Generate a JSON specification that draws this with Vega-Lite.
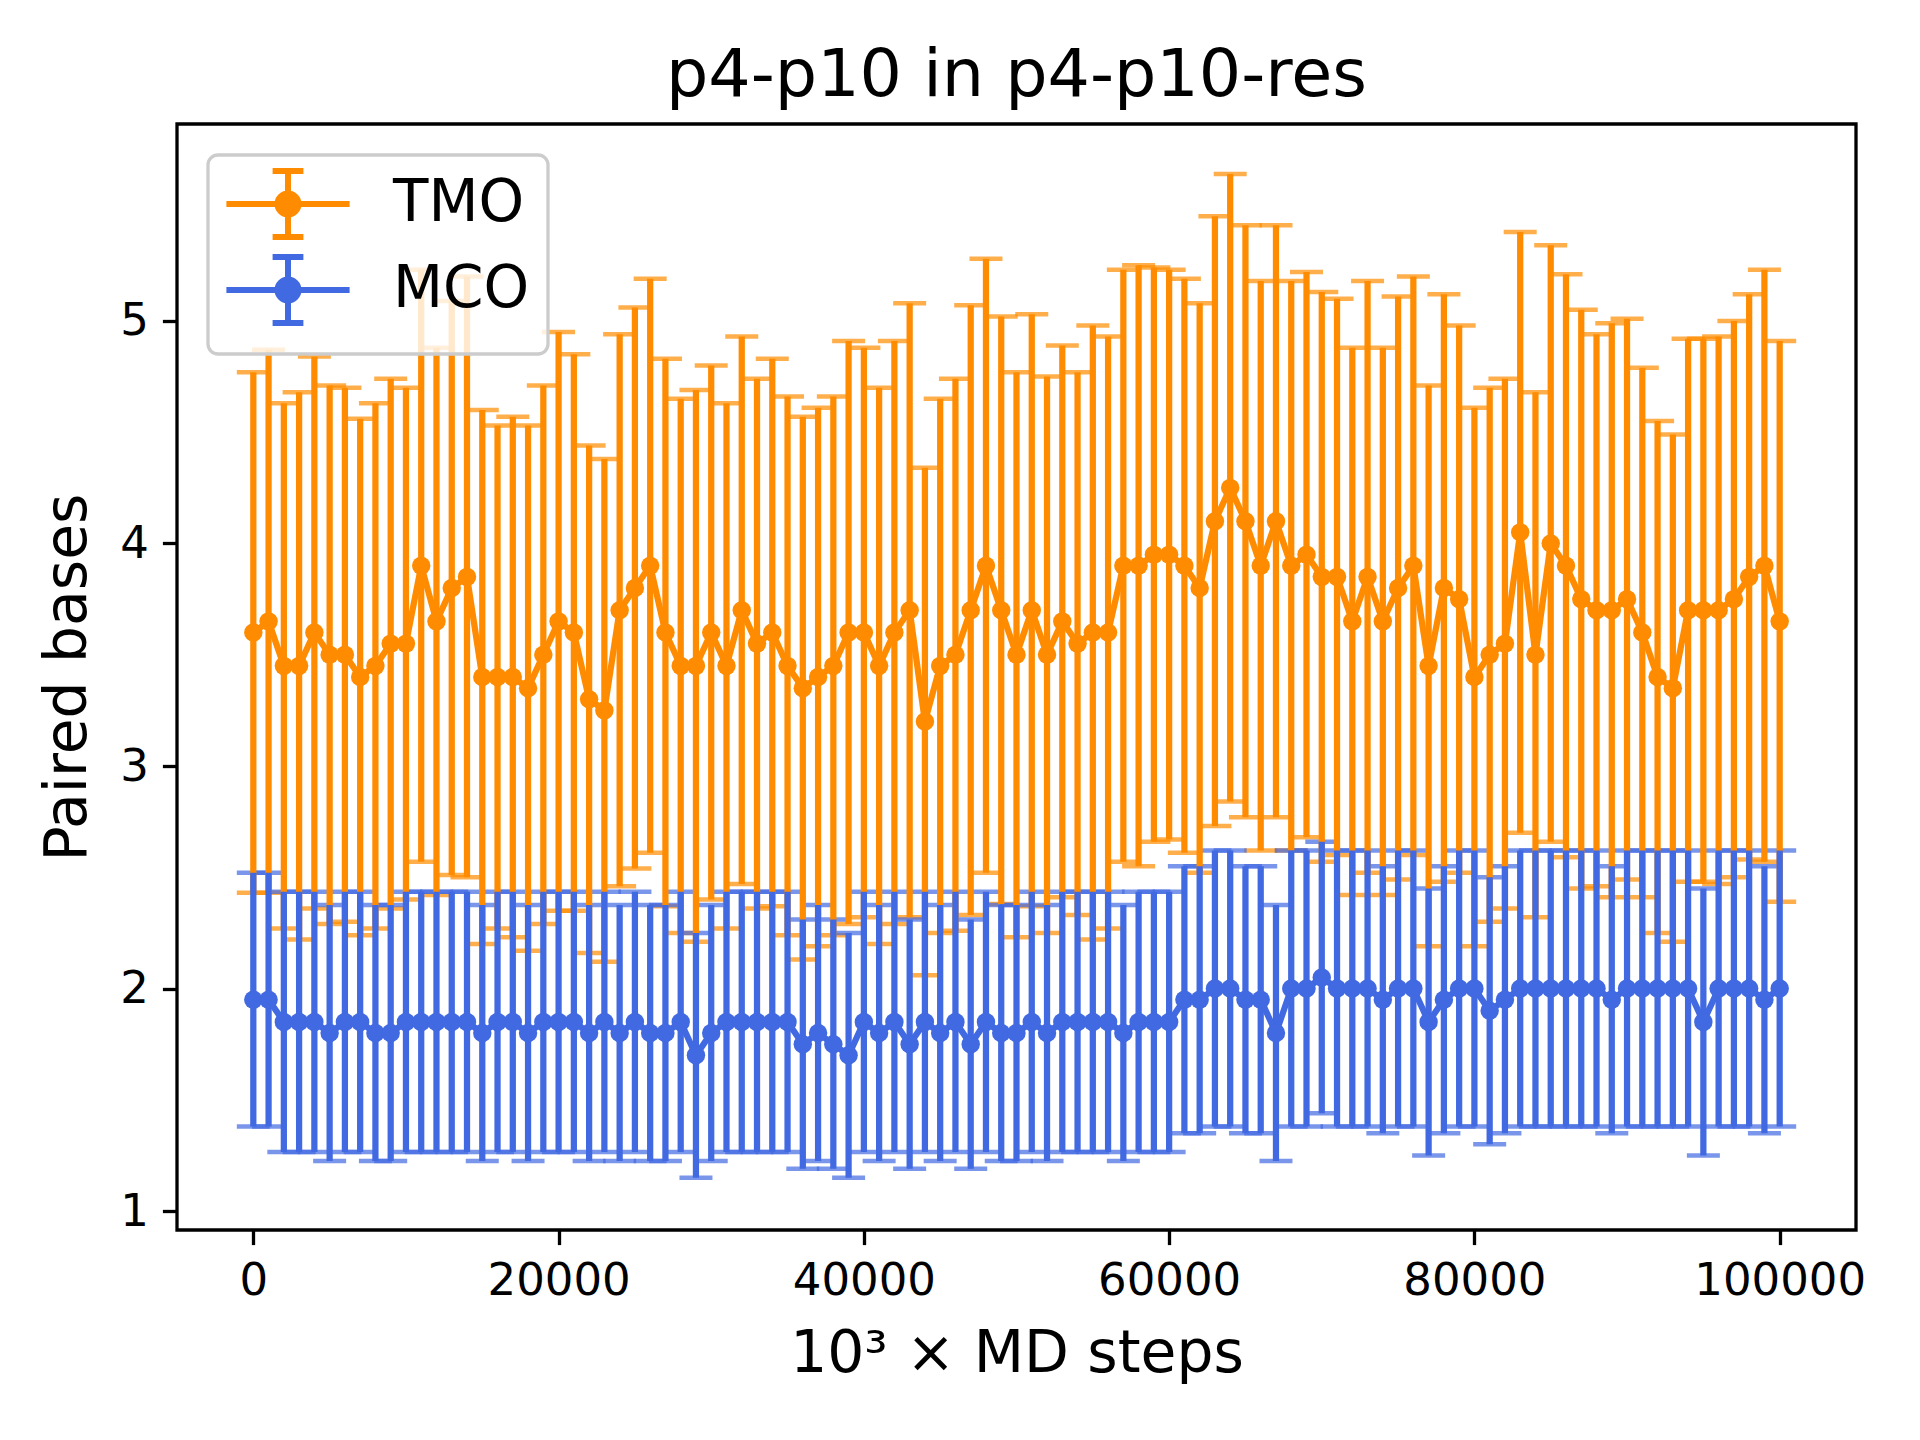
{
  "$schema": "https://vega.github.io/schema/vega-lite/v6.json",
  "width": 1679,
  "height": 1106,
  "autosize": {"type": "none"},
  "padding": {"left": 177, "top": 124, "right": 64, "bottom": 210},
  "background": "white",
  "title": {"text": "p4-p10 in p4-p10-res", "fontSize": 66.7, "font": "DejaVu Sans", "fontWeight": "normal", "color": "black", "anchor": "middle", "offset": -39, "baseline": "alphabetic"},
  "config": {
    "view": {"stroke": "black", "strokeWidth": 3.3},
    "axis": {"grid": false, "domain": false, "tickColor": "black", "tickWidth": 3.3, "tickSize": 14.6, "labelFont": "DejaVu Sans", "labelFontSize": 45, "labelColor": "black", "labelPadding": 14, "titleFont": "DejaVu Sans", "titleFontSize": 58.3, "titleFontWeight": "normal", "titleColor": "black", "labelFlush": false, "labelOverlap": false}
  },
  "data": {"values": [
    {"series":"TMO","step":0,"mean":3.60,"std":1.17},{"series":"TMO","step":1000,"mean":3.65,"std":1.22},{"series":"TMO","step":2000,"mean":3.45,"std":1.18},{"series":"TMO","step":3000,"mean":3.45,"std":1.23},{"series":"TMO","step":4000,"mean":3.60,"std":1.24},
    {"series":"TMO","step":5000,"mean":3.50,"std":1.21},{"series":"TMO","step":6000,"mean":3.50,"std":1.20},{"series":"TMO","step":7000,"mean":3.40,"std":1.16},{"series":"TMO","step":8000,"mean":3.45,"std":1.18},{"series":"TMO","step":9000,"mean":3.55,"std":1.19},
    {"series":"TMO","step":10000,"mean":3.55,"std":1.15},{"series":"TMO","step":11000,"mean":3.90,"std":1.33},{"series":"TMO","step":12000,"mean":3.65,"std":1.23},{"series":"TMO","step":13000,"mean":3.80,"std":1.29},{"series":"TMO","step":14000,"mean":3.85,"std":1.35},
    {"series":"TMO","step":15000,"mean":3.40,"std":1.20},{"series":"TMO","step":16000,"mean":3.40,"std":1.13},{"series":"TMO","step":17000,"mean":3.40,"std":1.17},{"series":"TMO","step":18000,"mean":3.35,"std":1.18},{"series":"TMO","step":19000,"mean":3.50,"std":1.21},
    {"series":"TMO","step":20000,"mean":3.65,"std":1.30},{"series":"TMO","step":21000,"mean":3.60,"std":1.25},{"series":"TMO","step":22000,"mean":3.30,"std":1.14},{"series":"TMO","step":23000,"mean":3.25,"std":1.13},{"series":"TMO","step":24000,"mean":3.70,"std":1.24},
    {"series":"TMO","step":25000,"mean":3.80,"std":1.26},{"series":"TMO","step":26000,"mean":3.90,"std":1.29},{"series":"TMO","step":27000,"mean":3.60,"std":1.23},{"series":"TMO","step":28000,"mean":3.45,"std":1.20},{"series":"TMO","step":29000,"mean":3.45,"std":1.24},
    {"series":"TMO","step":30000,"mean":3.60,"std":1.20},{"series":"TMO","step":31000,"mean":3.45,"std":1.18},{"series":"TMO","step":32000,"mean":3.70,"std":1.23},{"series":"TMO","step":33000,"mean":3.55,"std":1.19},{"series":"TMO","step":34000,"mean":3.60,"std":1.23},
    {"series":"TMO","step":35000,"mean":3.45,"std":1.21},{"series":"TMO","step":36000,"mean":3.35,"std":1.22},{"series":"TMO","step":37000,"mean":3.40,"std":1.21},{"series":"TMO","step":38000,"mean":3.45,"std":1.21},{"series":"TMO","step":39000,"mean":3.60,"std":1.31},
    {"series":"TMO","step":40000,"mean":3.60,"std":1.28},{"series":"TMO","step":41000,"mean":3.45,"std":1.25},{"series":"TMO","step":42000,"mean":3.60,"std":1.31},{"series":"TMO","step":43000,"mean":3.70,"std":1.38},{"series":"TMO","step":44000,"mean":3.20,"std":1.14},
    {"series":"TMO","step":45000,"mean":3.45,"std":1.20},{"series":"TMO","step":46000,"mean":3.50,"std":1.24},{"series":"TMO","step":47000,"mean":3.70,"std":1.37},{"series":"TMO","step":48000,"mean":3.90,"std":1.38},{"series":"TMO","step":49000,"mean":3.70,"std":1.32},
    {"series":"TMO","step":50000,"mean":3.50,"std":1.27},{"series":"TMO","step":51000,"mean":3.70,"std":1.33},{"series":"TMO","step":52000,"mean":3.50,"std":1.25},{"series":"TMO","step":53000,"mean":3.65,"std":1.24},{"series":"TMO","step":54000,"mean":3.55,"std":1.22},
    {"series":"TMO","step":55000,"mean":3.60,"std":1.38},{"series":"TMO","step":56000,"mean":3.60,"std":1.33},{"series":"TMO","step":57000,"mean":3.90,"std":1.33},{"series":"TMO","step":58000,"mean":3.90,"std":1.35},{"series":"TMO","step":59000,"mean":3.95,"std":1.29},
    {"series":"TMO","step":60000,"mean":3.95,"std":1.28},{"series":"TMO","step":61000,"mean":3.90,"std":1.29},{"series":"TMO","step":62000,"mean":3.80,"std":1.28},{"series":"TMO","step":63000,"mean":4.10,"std":1.37},{"series":"TMO","step":64000,"mean":4.25,"std":1.41},
    {"series":"TMO","step":65000,"mean":4.10,"std":1.33},{"series":"TMO","step":66000,"mean":3.90,"std":1.28},{"series":"TMO","step":67000,"mean":4.10,"std":1.33},{"series":"TMO","step":68000,"mean":3.90,"std":1.28},{"series":"TMO","step":69000,"mean":3.95,"std":1.27},
    {"series":"TMO","step":70000,"mean":3.85,"std":1.28},{"series":"TMO","step":71000,"mean":3.85,"std":1.25},{"series":"TMO","step":72000,"mean":3.65,"std":1.23},{"series":"TMO","step":73000,"mean":3.85,"std":1.33},{"series":"TMO","step":74000,"mean":3.65,"std":1.23},
    {"series":"TMO","step":75000,"mean":3.80,"std":1.31},{"series":"TMO","step":76000,"mean":3.90,"std":1.30},{"series":"TMO","step":77000,"mean":3.45,"std":1.26},{"series":"TMO","step":78000,"mean":3.80,"std":1.32},{"series":"TMO","step":79000,"mean":3.75,"std":1.23},
    {"series":"TMO","step":80000,"mean":3.40,"std":1.21},{"series":"TMO","step":81000,"mean":3.50,"std":1.20},{"series":"TMO","step":82000,"mean":3.55,"std":1.19},{"series":"TMO","step":83000,"mean":4.05,"std":1.35},{"series":"TMO","step":84000,"mean":3.50,"std":1.18},
    {"series":"TMO","step":85000,"mean":4.00,"std":1.34},{"series":"TMO","step":86000,"mean":3.90,"std":1.31},{"series":"TMO","step":87000,"mean":3.75,"std":1.30},{"series":"TMO","step":88000,"mean":3.70,"std":1.24},{"series":"TMO","step":89000,"mean":3.70,"std":1.29},
    {"series":"TMO","step":90000,"mean":3.75,"std":1.26},{"series":"TMO","step":91000,"mean":3.60,"std":1.19},{"series":"TMO","step":92000,"mean":3.40,"std":1.15},{"series":"TMO","step":93000,"mean":3.35,"std":1.14},{"series":"TMO","step":94000,"mean":3.70,"std":1.22},
    {"series":"TMO","step":95000,"mean":3.70,"std":1.22},{"series":"TMO","step":96000,"mean":3.70,"std":1.23},{"series":"TMO","step":97000,"mean":3.75,"std":1.25},{"series":"TMO","step":98000,"mean":3.85,"std":1.27},{"series":"TMO","step":99000,"mean":3.90,"std":1.33},
    {"series":"TMO","step":100000,"mean":3.65,"std":1.26},
    {"series":"MCO","step":0,"mean":1.95,"std":0.57},{"series":"MCO","step":1000,"mean":1.95,"std":0.57},{"series":"MCO","step":2000,"mean":1.85,"std":0.585},{"series":"MCO","step":3000,"mean":1.85,"std":0.585},{"series":"MCO","step":4000,"mean":1.85,"std":0.585},
    {"series":"MCO","step":5000,"mean":1.80,"std":0.575},{"series":"MCO","step":6000,"mean":1.85,"std":0.585},{"series":"MCO","step":7000,"mean":1.85,"std":0.585},{"series":"MCO","step":8000,"mean":1.80,"std":0.575},{"series":"MCO","step":9000,"mean":1.80,"std":0.575},
    {"series":"MCO","step":10000,"mean":1.85,"std":0.585},{"series":"MCO","step":11000,"mean":1.85,"std":0.585},{"series":"MCO","step":12000,"mean":1.85,"std":0.585},{"series":"MCO","step":13000,"mean":1.85,"std":0.585},{"series":"MCO","step":14000,"mean":1.85,"std":0.585},
    {"series":"MCO","step":15000,"mean":1.80,"std":0.575},{"series":"MCO","step":16000,"mean":1.85,"std":0.585},{"series":"MCO","step":17000,"mean":1.85,"std":0.585},{"series":"MCO","step":18000,"mean":1.80,"std":0.575},{"series":"MCO","step":19000,"mean":1.85,"std":0.585},
    {"series":"MCO","step":20000,"mean":1.85,"std":0.585},{"series":"MCO","step":21000,"mean":1.85,"std":0.585},{"series":"MCO","step":22000,"mean":1.80,"std":0.575},{"series":"MCO","step":23000,"mean":1.85,"std":0.585},{"series":"MCO","step":24000,"mean":1.80,"std":0.575},
    {"series":"MCO","step":25000,"mean":1.85,"std":0.585},{"series":"MCO","step":26000,"mean":1.80,"std":0.575},{"series":"MCO","step":27000,"mean":1.80,"std":0.575},{"series":"MCO","step":28000,"mean":1.85,"std":0.585},{"series":"MCO","step":29000,"mean":1.70,"std":0.55},
    {"series":"MCO","step":30000,"mean":1.80,"std":0.575},{"series":"MCO","step":31000,"mean":1.85,"std":0.585},{"series":"MCO","step":32000,"mean":1.85,"std":0.585},{"series":"MCO","step":33000,"mean":1.85,"std":0.585},{"series":"MCO","step":34000,"mean":1.85,"std":0.585},
    {"series":"MCO","step":35000,"mean":1.85,"std":0.585},{"series":"MCO","step":36000,"mean":1.75,"std":0.56},{"series":"MCO","step":37000,"mean":1.80,"std":0.575},{"series":"MCO","step":38000,"mean":1.75,"std":0.56},{"series":"MCO","step":39000,"mean":1.70,"std":0.55},
    {"series":"MCO","step":40000,"mean":1.85,"std":0.585},{"series":"MCO","step":41000,"mean":1.80,"std":0.575},{"series":"MCO","step":42000,"mean":1.85,"std":0.585},{"series":"MCO","step":43000,"mean":1.75,"std":0.56},{"series":"MCO","step":44000,"mean":1.85,"std":0.585},
    {"series":"MCO","step":45000,"mean":1.80,"std":0.575},{"series":"MCO","step":46000,"mean":1.85,"std":0.585},{"series":"MCO","step":47000,"mean":1.75,"std":0.56},{"series":"MCO","step":48000,"mean":1.85,"std":0.585},{"series":"MCO","step":49000,"mean":1.80,"std":0.575},
    {"series":"MCO","step":50000,"mean":1.80,"std":0.575},{"series":"MCO","step":51000,"mean":1.85,"std":0.585},{"series":"MCO","step":52000,"mean":1.80,"std":0.575},{"series":"MCO","step":53000,"mean":1.85,"std":0.585},{"series":"MCO","step":54000,"mean":1.85,"std":0.585},
    {"series":"MCO","step":55000,"mean":1.85,"std":0.585},{"series":"MCO","step":56000,"mean":1.85,"std":0.585},{"series":"MCO","step":57000,"mean":1.80,"std":0.575},{"series":"MCO","step":58000,"mean":1.85,"std":0.585},{"series":"MCO","step":59000,"mean":1.85,"std":0.585},
    {"series":"MCO","step":60000,"mean":1.85,"std":0.585},{"series":"MCO","step":61000,"mean":1.95,"std":0.60},{"series":"MCO","step":62000,"mean":1.95,"std":0.60},{"series":"MCO","step":63000,"mean":2.00,"std":0.62},{"series":"MCO","step":64000,"mean":2.00,"std":0.62},
    {"series":"MCO","step":65000,"mean":1.95,"std":0.60},{"series":"MCO","step":66000,"mean":1.95,"std":0.60},{"series":"MCO","step":67000,"mean":1.80,"std":0.575},{"series":"MCO","step":68000,"mean":2.00,"std":0.62},{"series":"MCO","step":69000,"mean":2.00,"std":0.62},
    {"series":"MCO","step":70000,"mean":2.05,"std":0.61},{"series":"MCO","step":71000,"mean":2.00,"std":0.62},{"series":"MCO","step":72000,"mean":2.00,"std":0.62},{"series":"MCO","step":73000,"mean":2.00,"std":0.62},{"series":"MCO","step":74000,"mean":1.95,"std":0.60},
    {"series":"MCO","step":75000,"mean":2.00,"std":0.62},{"series":"MCO","step":76000,"mean":2.00,"std":0.62},{"series":"MCO","step":77000,"mean":1.85,"std":0.60},{"series":"MCO","step":78000,"mean":1.95,"std":0.60},{"series":"MCO","step":79000,"mean":2.00,"std":0.62},
    {"series":"MCO","step":80000,"mean":2.00,"std":0.62},{"series":"MCO","step":81000,"mean":1.90,"std":0.60},{"series":"MCO","step":82000,"mean":1.95,"std":0.60},{"series":"MCO","step":83000,"mean":2.00,"std":0.62},{"series":"MCO","step":84000,"mean":2.00,"std":0.62},
    {"series":"MCO","step":85000,"mean":2.00,"std":0.62},{"series":"MCO","step":86000,"mean":2.00,"std":0.62},{"series":"MCO","step":87000,"mean":2.00,"std":0.62},{"series":"MCO","step":88000,"mean":2.00,"std":0.62},{"series":"MCO","step":89000,"mean":1.95,"std":0.60},
    {"series":"MCO","step":90000,"mean":2.00,"std":0.62},{"series":"MCO","step":91000,"mean":2.00,"std":0.62},{"series":"MCO","step":92000,"mean":2.00,"std":0.62},{"series":"MCO","step":93000,"mean":2.00,"std":0.62},{"series":"MCO","step":94000,"mean":2.00,"std":0.62},
    {"series":"MCO","step":95000,"mean":1.85,"std":0.60},{"series":"MCO","step":96000,"mean":2.00,"std":0.62},{"series":"MCO","step":97000,"mean":2.00,"std":0.62},{"series":"MCO","step":98000,"mean":2.00,"std":0.62},{"series":"MCO","step":99000,"mean":1.95,"std":0.60},
    {"series":"MCO","step":100000,"mean":2.00,"std":0.62}
  ]},
  "encoding": {
    "x": {"field": "step", "type": "quantitative", "scale": {"domain": [-5000, 105000], "nice": false, "zero": false},
          "axis": {"title": "10³ × MD steps", "values": [0, 20000, 40000, 60000, 80000, 100000], "format": "d", "titlePadding": 22}},
    "y": {"field": "mean", "type": "quantitative", "scale": {"domain": [0.915, 5.885], "nice": false, "zero": false},
          "axis": {"title": "Paired bases", "values": [1, 2, 3, 4, 5], "format": "d", "titlePadding": 22}},
    "color": {"field": "series", "type": "nominal", "scale": {"domain": ["TMO", "MCO"], "range": ["#ff8c00", "#4169e1"]},
      "legend": {
        "title": null, "orient": "top-left", "offset": 31,
        "fillColor": "rgba(255,255,255,0.8)", "strokeColor": "#cccccc", "cornerRadius": 10, "padding": 18,
        "labelFont": "DejaVu Sans", "labelFontSize": 58, "labelColor": "black",
        "symbolType": "M-2.2,0H2.2M0,-1.18V1.18M-0.55,-1.18H0.55M-0.55,1.18H0.55M0.375,0A0.375,0.375,0,1,1,-0.375,0A0.375,0.375,0,1,1,0.375,0Z",
        "symbolSize": 3136, "symbolStrokeWidth": 6, "rowPadding": -6, "labelOffset": 74, "symbolOffset": 31,
        "encode": {
          "legend": {"update": {"strokeWidth": {"value": 3.3}}},
          "symbols": {"update": {"fill": {"scale": "color", "field": "value"}, "stroke": {"scale": "color", "field": "value"}, "opacity": {"value": 1}, "strokeWidth": {"value": 6}}}
        }
      }}
  },
  "layer": [
    {"mark": {"type": "errorbar", "ticks": {"size": 33, "thickness": 4.5}, "rule": {"strokeWidth": 6.25}},
     "encoding": {"yError": {"field": "std"}}},
    {"mark": {"type": "line", "strokeWidth": 6.25, "point": {"filled": true, "size": 340, "opacity": 1}}}
  ]
}
